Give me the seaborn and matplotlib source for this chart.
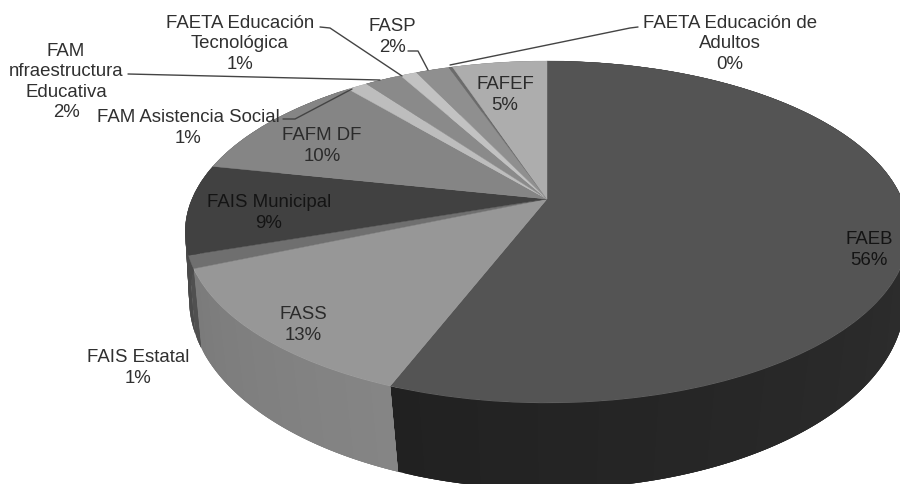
import numpy as np
import matplotlib
matplotlib.use("Agg")
import matplotlib.pyplot as plt
from matplotlib.transforms import Transform
import seaborn as sns

# ---- data ----
categories = ["FAEB", "FASS", "FAIS Estatal", "FAIS Municipal", "FAFM DF",
              "FAM Asistencia Social", "FAM\nnfraestructura\nEducativa",
              "FAETA Educación\nTecnológica", "FASP",
              "FAETA Educación de\nAdultos", "FAFEF"]
values = [55.9, 12.7, 1.2, 8.5, 10.6, 1.1, 2.0, 0.9, 1.8, 0.2, 5.1]
pct_labels = ["56%", "13%", "1%", "9%", "10%", "1%", "2%", "1%", "2%", "0%", "5%"]

# ---- styles ----
top_colors = ["#545454", "#979797", "#6f6f6f", "#414141", "#858585", "#bdbdbd",
              "#8a8a8a", "#c2c2c2", "#8f8f8f", "#6b6b6b", "#adadad"]
side_start = ["#212121", "#7b7b7b", "#505050", "#4a4a4a", "#666666", "#8f8f8f",
              "#6a6a6a", "#949494", "#6e6e6e", "#505050", "#858585"]
side_end = ["#3a3a3a", "#858585", "#505050", "#4a4a4a", "#666666", "#8f8f8f",
            "#6a6a6a", "#949494", "#6e6e6e", "#505050", "#858585"]
text_colors = ["#141414", "#2b2b2b", "#303030", "#141414", "#2b2b2b", "#303030",
               "#303030", "#303030", "#303030", "#303030", "#2b2b2b"]
label_xy = [(869, 250), (303, 325), (138, 368), (269, 213), (322, 146), (188, 128),
            (66, 82), (240, 44), (392, 37), (730, 44), (505, 95)]
leaders = [None, None, None, None, None,
           ([283, 295, 352], [120, 120, 90]),
           ([128, 380], [75, 81]),
           ([320, 330, 402], [28, 29, 77]),
           ([408, 418, 428], [52, 52, 71]),
           ([638, 630, 450], [28, 29, 66]),
           None]

sns.set_theme(style="white")
plt.rcParams["font.family"] = ["Liberation Sans", "DejaVu Sans"]


class Perspective(Transform):
    """Maps the unit-circle pie onto the tilted disc of the picture."""
    input_dims = output_dims = 2
    is_separable = False
    has_inverse = False

    def __init__(self, x0, y0, a, b, p):
        super().__init__()
        self.x0, self.y0, self.a, self.b, self.p = x0, y0, a, b, p

    def transform_non_affine(self, xy):
        xy = np.asarray(xy, dtype=float)
        w = 1 + self.p * xy[:, 1]
        return np.column_stack([self.x0 + self.a * xy[:, 0] / w,
                                self.y0 - self.b * xy[:, 1] / w])


top_rim = Perspective(547, 200, 355, 164.6, 0.193)
bottom_rim = Perspective(547, 271.5, 353.8, 185.7, 0.15)

fig = plt.figure(figsize=(9, 4.85), dpi=100, facecolor="white")
ax = fig.add_axes([0, 0, 1, 1])
wedges, _ = ax.pie(values, colors=top_colors, startangle=90, counterclock=False,
                   wedgeprops=dict(linewidth=0.3))
ax.set_aspect("auto")
ax.set_xlim(0, 900)
ax.set_ylim(485, 0)
ax.axis("off")

for w, c in zip(wedges, top_colors):
    w.set_edgecolor(c)
    w.set_transform(top_rim + ax.transData)
    w.set_zorder(5)


def grey(h):
    return np.array(matplotlib.colors.to_rgb(h))


# side wall of each slice, shaded along the arc; each quad overlaps the next
for w, c0, c1 in zip(wedges, side_start, side_end):
    n = max(int((w.theta2 - w.theta1) / 1.0), 2)
    th = np.radians(np.linspace(w.theta1, w.theta2, n + 1))
    ring = np.column_stack([np.cos(th), np.sin(th)])
    upper = top_rim.transform(ring)
    lower = bottom_rim.transform(ring)
    for i in range(n):
        t = i / max(n - 1, 1)
        col = grey(c0) * (1 - t) + grey(c1) * t
        j = min(i + 3, n)
        quad = np.vstack([upper[i:j + 1], lower[i:j + 1][::-1]])
        ax.fill(quad[:, 0], quad[:, 1], color=col, lw=0, zorder=2)

for name, pct, (x, y), lead, tc in zip(categories, pct_labels, label_xy, leaders, text_colors):
    ax.text(x, y, f"{name}\n{pct}", ha="center", va="center", fontsize=13.4,
            color=tc, linespacing=1.25, zorder=10)
    if lead is not None:
        ax.plot(lead[0], lead[1], color="#444444", lw=1, zorder=9)

fig.savefig("out.png", dpi=100)
